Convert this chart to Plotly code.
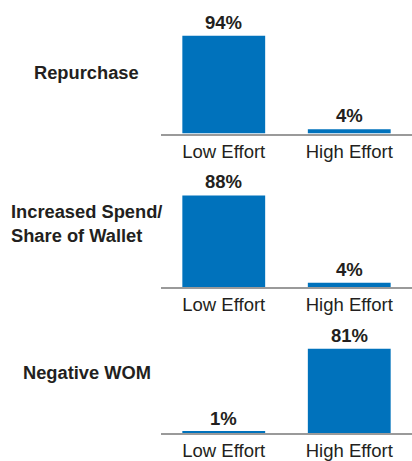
import plotly.graph_objects as go

# Outcome rows and their effort categories
outcomes = ["Repurchase", "Increased Spend/<br>Share of Wallet", "Negative WOM"]
title_align = ["center", "left", "center"]
effort_levels = ["Low Effort", "High Effort"]

# Percent of customers per outcome, (low effort, high effort)
repurchase = [94, 4]
increased_spend = [88, 4]
negative_wom = [1, 81]
series = [repurchase, increased_spend, negative_wom]

BLUE = "#0072BC"
TEXT = "#231F20"
FONT = "Liberation Sans, Arial, sans-serif"

W, H = 412, 461
# vertical pixel extents (top, bottom) of each row's plot area
rows_px = [(29.5, 133.5), (183, 287), (329, 433)]
title_y_px = [73, 223, 372]
x_left_px = 161

fig = go.Figure()
for i, (vals, (top, bot)) in enumerate(zip(series, rows_px)):
    n = "" if i == 0 else str(i + 1)
    fig.add_trace(go.Bar(
        x=effort_levels, y=vals, marker=dict(color=BLUE, line=dict(width=0)),
        xaxis="x" + n, yaxis="y" + n, showlegend=False, hoverinfo="skip",
    ))
    fig.update_layout(**{
        "xaxis" + n: dict(
            domain=[x_left_px / W, 1], anchor="y" + n, showline=True,
            linecolor="#9A9A9A", linewidth=2, showgrid=False, ticks="",
            tickfont=dict(family=FONT, size=18.5, color=TEXT), fixedrange=True,
        ),
        "yaxis" + n: dict(
            domain=[1 - bot / H, 1 - top / H], anchor="x" + n, range=[0, 100],
            visible=False, fixedrange=True,
        ),
    })
    # value labels above each bar
    for cat, v in zip(effort_levels, vals):
        fig.add_annotation(
            x=cat, y=v, xref="x" + n, yref="y" + n, text=f"<b>{v}%</b>",
            showarrow=False, yanchor="bottom", yshift=1,
            font=dict(family=FONT, size=18.5, color=TEXT),
        )
    # row title on the left
    fig.add_annotation(
        x=86.5 / W, y=1 - title_y_px[i] / H, xref="paper", yref="paper",
        text=f"<b>{outcomes[i]}</b>", showarrow=False, xanchor="center",
        yanchor="middle", align=title_align[i],
        font=dict(family=FONT, size=18.3, color=TEXT),
    )

fig.update_layout(
    width=W, height=H, margin=dict(l=0, r=0, t=0, b=0),
    bargap=0.34, plot_bgcolor="white", paper_bgcolor="white",
)

fig.write_html("out.html", config={"displayModeBar": False})
